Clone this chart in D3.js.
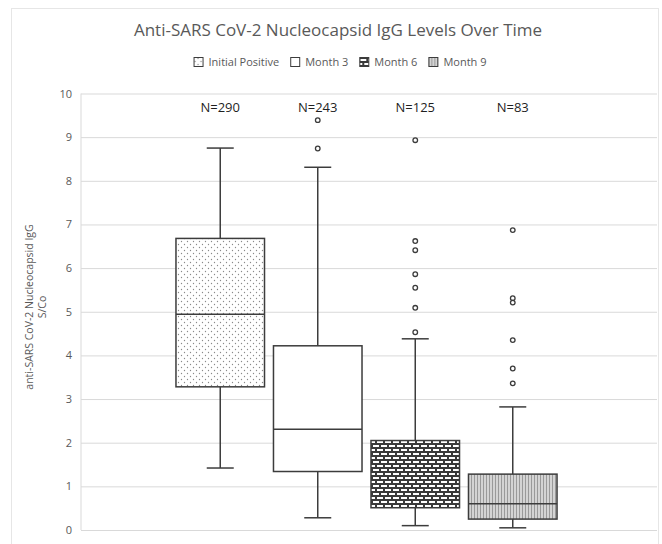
<!DOCTYPE html>
<html>
<head>
<meta charset="utf-8">
<script src="https://cdn.jsdelivr.net/npm/d3@7"></script>
<style>
  body { margin: 0; background: #fff; }
  svg { display: block; }
</style>
</head>
<body>
<svg id="chart"></svg>
<script>
// values
const categories = ["Initial Positive", "Month 3", "Month 6", "Month 9"];
const counts = [290, 243, 125, 83];
const q1 = [3.28, 1.34, 0.51, 0.25];
const median = [4.94, 2.31, 0.96, 0.60];
const q3 = [6.68, 4.22, 2.05, 1.28];
const whiskerLow = [1.42, 0.28, 0.10, 0.05];
const whiskerHigh = [8.75, 8.31, 4.38, 2.82];
const outliers = [
    [],
    [8.74, 9.39],
    [8.93, 6.62, 6.41, 5.86, 5.55, 5.09, 4.53],
    [6.87, 5.31, 5.21, 4.35, 3.70, 3.36]
];
const yTicks = [0, 1, 2, 3, 4, 5, 6, 7, 8, 9, 10];
const fills = ["url(#dots)", "#ffffff", "url(#bricks)", "url(#vlines)"];

const w = 662;
const h = 544;
const margin = ({ top: 93.5, right: 5, bottom: 14, left: 81 });
const plotRight = w - margin.right;
const font = "'Open Sans', sans-serif";
const grey = "#595959";
const dark = "#3c3c3c";

const svg = d3.select("#chart")
    .attr("width", w)
    .attr("height", h);

// patterns
const defs = svg.append("defs");

const dots = defs.append("pattern")
    .attr("id", "dots")
    .attr("patternUnits", "userSpaceOnUse")
    .attr("width", 6)
    .attr("height", 6);
dots.append("rect").attr("width", 6).attr("height", 6).attr("fill", "#fff");
dots.append("circle").attr("cx", 1.5).attr("cy", 1.5).attr("r", 0.65).attr("fill", "#8a8a8a");
dots.append("circle").attr("cx", 4.5).attr("cy", 4.5).attr("r", 0.65).attr("fill", "#8a8a8a");

const bricks = defs.append("pattern")
    .attr("id", "bricks")
    .attr("patternUnits", "userSpaceOnUse")
    .attr("width", 8)
    .attr("height", 8);
bricks.append("rect").attr("width", 8).attr("height", 8).attr("fill", "#3a3a3a");
bricks.append("rect").attr("x", 1).attr("y", 1).attr("width", 6).attr("height", 2).attr("fill", "#fff");
bricks.append("rect").attr("x", 5).attr("y", 5).attr("width", 6).attr("height", 2).attr("fill", "#fff");
bricks.append("rect").attr("x", -3).attr("y", 5).attr("width", 6).attr("height", 2).attr("fill", "#fff");

const vlines = defs.append("pattern")
    .attr("id", "vlines")
    .attr("patternUnits", "userSpaceOnUse")
    .attr("width", 3)
    .attr("height", 3);
vlines.append("rect").attr("width", 3).attr("height", 3).attr("fill", "#d4d4d4");
vlines.append("rect").attr("x", 0).attr("width", 1).attr("height", 3).attr("fill", "#9a9a9a");

// outer chart border
svg.append("rect")
    .attr("x", 11.5)
    .attr("y", 8.5)
    .attr("width", 647)
    .attr("height", 560)
    .attr("fill", "none")
    .attr("stroke", "#e6e6e6");

// scales
const yScale = d3.scaleLinear()
    .domain([0, 10])
    .range([h - margin.bottom, margin.top]);

const xGroup = d3.scaleBand()
    .domain([""])
    .range([margin.left, plotRight - 5])
    .paddingOuter(0.232)
    .paddingInner(0);

const xSeries = d3.scaleBand()
    .domain(categories)
    .range([xGroup(""), xGroup("") + xGroup.bandwidth()])
    .paddingInner(0.092)
    .paddingOuter(0.046);

// gridlines + tick labels
let yAxis = g => g
    .attr("transform", `translate(${margin.left},0)`)
    .call(d3.axisLeft(yScale).tickValues(yTicks).tickSize(-(plotRight - margin.left)).tickPadding(9))
    .call(g => g.select(".domain").remove())
    .call(g => g.selectAll(".tick line").attr("stroke", "#d9d9d9").attr("stroke-width", 1))
    .call(g => g.selectAll(".tick text")
        .attr("fill", grey)
        .style("font-family", font)
        .style("font-size", "11px"));

svg.append("g").call(yAxis);

// left axis line
svg.append("line")
    .attr("x1", margin.left)
    .attr("x2", margin.left)
    .attr("y1", yScale(10))
    .attr("y2", yScale(0))
    .attr("stroke", "#d9d9d9");

// title
svg.append("text")
    .attr("x", 338)
    .attr("y", 36)
    .attr("text-anchor", "middle")
    .attr("fill", grey)
    .style("font-family", font)
    .style("font-size", "17px")
    .text("Anti-SARS CoV-2 Nucleocapsid IgG Levels Over Time");

// y axis title
const yTitle = svg.append("text")
    .attr("transform", `translate(34, ${307}) rotate(-90)`)
    .attr("text-anchor", "middle")
    .attr("fill", grey)
    .style("font-family", font)
    .style("font-size", "10.5px");
yTitle.append("tspan").attr("x", 0).attr("dy", "-0.1em").text("anti-SARS CoV-2 Nucleocapsid IgG");
yTitle.append("tspan").attr("x", 0).attr("dy", "1.2em").text("S/Co");

// legend
const legend = svg.append("g");
let lx = 0;
categories.forEach((c, i) => {
    const item = legend.append("g").attr("transform", `translate(${lx},0)`);
    item.append("rect")
        .attr("x", 0.5)
        .attr("y", -8.5)
        .attr("width", 9)
        .attr("height", 9)
        .attr("fill", fills[i])
        .attr("stroke", dark);
    const t = item.append("text")
        .attr("x", 15)
        .attr("y", 0)
        .attr("fill", grey)
        .style("font-family", font)
        .style("font-size", "11px")
        .text(c);
    lx += 15 + t.node().getComputedTextLength() + 11;
});
legend.attr("transform", `translate(${340 - (lx - 11) / 2}, 66)`);

// boxes
const chart = svg.append("g");
const stroke = 1.5;

categories.forEach((c, i) => {
    const x0 = xSeries(c);
    const bw = xSeries.bandwidth();
    const cx = x0 + bw / 2;
    const capW = 27;
    const g = chart.append("g");

    // whiskers
    g.append("line")
        .attr("x1", cx).attr("x2", cx)
        .attr("y1", yScale(q3[i])).attr("y2", yScale(whiskerHigh[i]))
        .attr("stroke", dark).attr("stroke-width", stroke);
    g.append("line")
        .attr("x1", cx).attr("x2", cx)
        .attr("y1", yScale(q1[i])).attr("y2", yScale(whiskerLow[i]))
        .attr("stroke", dark).attr("stroke-width", stroke);
    [whiskerHigh[i], whiskerLow[i]].forEach(v => {
        g.append("line")
            .attr("x1", cx - capW / 2).attr("x2", cx + capW / 2)
            .attr("y1", yScale(v)).attr("y2", yScale(v))
            .attr("stroke", dark).attr("stroke-width", stroke);
    });

    // box
    g.append("rect")
        .attr("x", x0)
        .attr("y", yScale(q3[i]))
        .attr("width", bw)
        .attr("height", yScale(q1[i]) - yScale(q3[i]))
        .attr("fill", fills[i])
        .attr("stroke", dark)
        .attr("stroke-width", stroke);

    // median
    g.append("line")
        .attr("x1", x0).attr("x2", x0 + bw)
        .attr("y1", yScale(median[i])).attr("y2", yScale(median[i]))
        .attr("stroke", dark).attr("stroke-width", stroke);

    // outliers
    g.selectAll("circle")
        .data(outliers[i])
        .join("circle")
        .attr("cx", cx)
        .attr("cy", d => yScale(d))
        .attr("r", 2.3)
        .attr("fill", "#fff")
        .attr("stroke", dark)
        .attr("stroke-width", 1.3);

    // N label
    g.append("text")
        .attr("x", cx)
        .attr("y", yScale(9.58))
        .attr("text-anchor", "middle")
        .attr("fill", "#1f1f1f")
        .style("font-family", font)
        .style("font-size", "13px")
        .text(`N=${counts[i]}`);
});
</script>
</body>
</html>
